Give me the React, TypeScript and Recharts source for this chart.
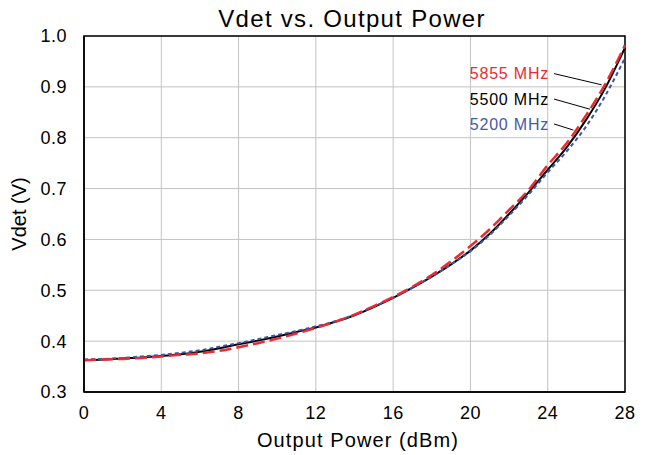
import React from "react";
import {
  LineChart,
  Line,
  XAxis,
  YAxis,
  CartesianGrid,
  ReferenceArea,
  ReferenceLine,
  ReferenceDot,
} from "recharts";

const powerDbm = [0, 1, 2, 3, 4, 5, 6, 7, 8, 9, 10, 11, 12, 13, 14, 15, 16, 17, 18, 19, 20, 21, 22, 23, 24, 25, 26, 27, 28];
const vdet5500 = [0.363, 0.364, 0.366, 0.368, 0.371, 0.374, 0.379, 0.386, 0.394, 0.401, 0.409, 0.418, 0.427, 0.438, 0.451, 0.467, 0.485, 0.505, 0.527, 0.551, 0.578, 0.611, 0.65, 0.692, 0.737, 0.782, 0.836, 0.899, 0.977];
const vdet5855 = [0.362, 0.364, 0.365, 0.367, 0.37, 0.373, 0.376, 0.381, 0.388, 0.396, 0.405, 0.415, 0.426, 0.438, 0.452, 0.469, 0.487, 0.507, 0.53, 0.557, 0.587, 0.62, 0.658, 0.697, 0.746, 0.79, 0.845, 0.907, 0.982];
const vdet5200 = [0.364, 0.365, 0.367, 0.37, 0.373, 0.377, 0.382, 0.389, 0.396, 0.404, 0.412, 0.42, 0.429, 0.439, 0.452, 0.468, 0.485, 0.505, 0.527, 0.551, 0.577, 0.609, 0.647, 0.688, 0.732, 0.774, 0.823, 0.884, 0.957];

const xTicks = [0, 4, 8, 12, 16, 20, 24, 28];
const yTicks = [0.3, 0.4, 0.5, 0.6, 0.7, 0.8, 0.9, 1.0];

const seriesLabels = ["5855 MHz", "5500 MHz", "5200 MHz"];
const labelAnchors = [
  { x: 24.33, y: 0.926 },
  { x: 24.33, y: 0.876 },
  { x: 24.33, y: 0.827 },
];
const leaderEnds = [
  { x: 26.79, y: 0.904 },
  { x: 26.19, y: 0.856 },
  { x: 25.33, y: 0.815 },
];

const COLORS = { c5855: "#ec2a32", c5500: "#000000", c5200: "#3b56a8" };
const labelColors = [COLORS.c5855, COLORS.c5500, "#4658a8"];

const data = powerDbm.map((p, i) => ({
  p,
  v5500: vdet5500[i],
  v5855: vdet5855[i],
  v5200: vdet5200[i],
}));

const FONT = '"Liberation Sans", Arial, sans-serif';

export default function App() {
  return (
    <div
      style={{
        position: "absolute",
        left: 0,
        top: 0,
        width: 648,
        height: 455,
        fontFamily: FONT,
      }}
    >
      <LineChart
        width={648}
        height={455}
        data={data}
        margin={{ top: 36, right: 23, left: 0, bottom: 0 }}
      >
        <CartesianGrid stroke="#c3c3c3" strokeWidth={1} />
        <XAxis
          dataKey="p"
          type="number"
          domain={[0, 28]}
          ticks={xTicks}
          height={63}
          axisLine={{ stroke: "#000", strokeWidth: 1.5 }}
          tickLine={false}
          tickSize={6}
          tickMargin={8}
          tick={{ fill: "#000", fontSize: 18, fontFamily: FONT, letterSpacing: 0.5 }}
          interval={0}
        />
        <YAxis
          type="number"
          domain={[0.3, 1.0]}
          ticks={yTicks}
          width={84}
          axisLine={{ stroke: "#000", strokeWidth: 1.5 }}
          tickLine={false}
          tickSize={6}
          tickMargin={11}
          tickFormatter={(v: number) => v.toFixed(1)}
          tick={{ fill: "#000", fontSize: 18, fontFamily: FONT, letterSpacing: 0.5 }}
          interval={0}
          allowDataOverflow
        />
        <ReferenceArea
          x1={0}
          x2={28}
          y1={0.3}
          y2={1.0}
          fill="none"
          fillOpacity={0}
          stroke="#000"
          strokeWidth={1.5}
        />
        <Line
          type="monotone"
          dataKey="v5500"
          stroke={COLORS.c5500}
          strokeWidth={2}
          dot={false}
          isAnimationActive={false}
        />
        <Line
          type="monotone"
          dataKey="v5200"
          stroke={COLORS.c5200}
          strokeWidth={2}
          strokeDasharray="4 3"
          dot={false}
          isAnimationActive={false}
        />
        <Line
          type="monotone"
          dataKey="v5855"
          stroke={COLORS.c5855}
          strokeWidth={2.5}
          strokeDasharray="12 5"
          dot={false}
          isAnimationActive={false}
        />
        {seriesLabels.map((lab, i) => (
          <ReferenceLine
            key={"l" + lab}
            segment={[
              { x: labelAnchors[i].x, y: labelAnchors[i].y },
              { x: leaderEnds[i].x, y: leaderEnds[i].y },
            ]}
            stroke="#000"
            strokeWidth={1}
            ifOverflow="visible"
          />
        ))}
        {seriesLabels.map((lab, i) => (
          <ReferenceDot
            key={"d" + lab}
            x={labelAnchors[i].x}
            y={labelAnchors[i].y}
            r={0}
            fill="none"
            stroke="none"
            ifOverflow="visible"
            label={{
              value: lab,
              position: "left",
              offset: 5,
              fill: labelColors[i],
              fontSize: 16,
              fontFamily: FONT,
              letterSpacing: 0.8,
            }}
          />
        ))}
        <text
          x={352}
          y={26.7}
          textAnchor="middle"
          fontSize={24}
          fontFamily={FONT}
          fill="#000"
          letterSpacing={1.3}
        >
          Vdet vs. Output Power
        </text>
        <text
          x={358}
          y={447}
          textAnchor="middle"
          fontSize={20}
          fontFamily={FONT}
          fill="#000"
          letterSpacing={1.1}
        >
          Output Power (dBm)
        </text>
        <text
          x={26}
          y={214}
          textAnchor="middle"
          fontSize={20}
          fontFamily={FONT}
          fill="#000"
          transform="rotate(-90 26 214)"
        >
          Vdet (V)
        </text>
      </LineChart>
    </div>
  );
}
